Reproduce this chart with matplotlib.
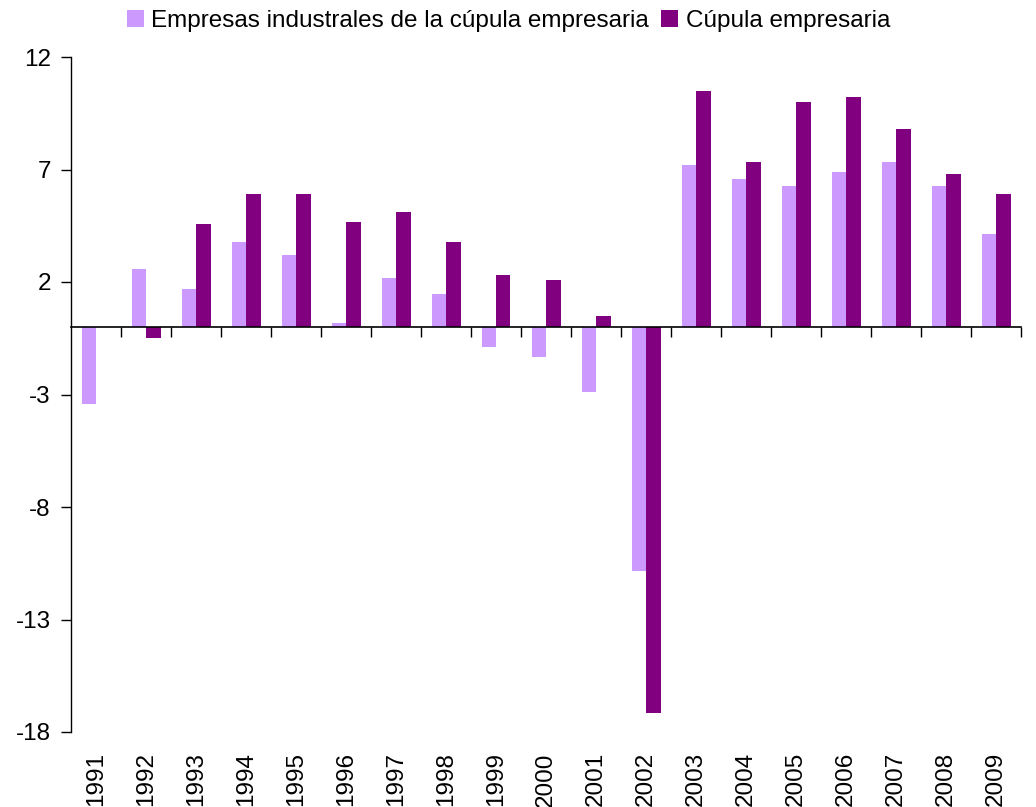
import numpy as np
import matplotlib
matplotlib.use("Agg")
import matplotlib.pyplot as plt

plt.rcParams['font.family'] = ['Liberation Sans', 'DejaVu Sans']
plt.rcParams['axes.unicode_minus'] = False

years = [str(y) for y in range(1991, 2010)]
industriales = [-3.40, 2.59, 1.70, 3.79, 3.21, 0.19, 2.19, 1.48, -0.90, -1.32,
                -2.90, -10.83, 7.21, 6.59, 6.27, 6.90, 7.34, 6.27, 4.14]
cupula = [0.0, -0.50, 4.59, 5.92, 5.92, 4.68, 5.12, 3.79, 2.32, 2.10,
          0.50, -17.14, 10.49, 7.34, 10.00, 10.23, 8.81, 6.81, 5.92]

light = '#CC99FF'
dark = '#800080'
fs = 17.5

fig = plt.figure(figsize=(10.36, 8.07), dpi=100)
ax = fig.add_axes([71 / 1036, 1 - 732 / 807, 950 / 1036, 675 / 807])

x = np.arange(len(years))
w = 0.29
ax.bar(x - w / 2, industriales, w, color=light,
       label='Empresas industrales de la cúpula empresaria')
ax.bar(x + w / 2, cupula, w, color=dark, label='Cúpula empresaria')

ax.set_xlim(-0.5, len(years) - 0.5)
ax.set_ylim(-18, 12)
ax.set_yticks(range(-18, 13, 5))
ax.tick_params(axis='y', labelsize=fs, length=7, width=1, direction='out', pad=7.5)

# category axis crosses at zero, labels stay at the bottom
for s in ['top', 'right']:
    ax.spines[s].set_visible(False)
ax.spines['bottom'].set_position(('data', 0))
ax.spines['bottom'].set_linewidth(1.2)
ax.spines['left'].set_linewidth(1)
ax.set_xticks(x)
ax.set_xticks(np.arange(0.5, len(years), 1), minor=True)
ax.tick_params(axis='x', which='major', length=0, labelbottom=False)
ax.tick_params(axis='x', which='minor', length=7, width=1, direction='out')

for i, yr in enumerate(years):
    ax.annotate(yr, xy=(i, 0), xycoords=ax.get_xaxis_transform(),
                xytext=(0, -14.5), textcoords='offset points',
                rotation=90, ha='center', va='top', fontsize=fs)

fig.legend(loc='center', bbox_to_anchor=(508.5 / 1036, 1 - 21 / 807), ncol=2,
           frameon=False, fontsize=fs, handlelength=0.7, handleheight=0.7,
           handletextpad=0.3, columnspacing=0.5, borderpad=0)

fig.savefig('out.png', dpi=100)
